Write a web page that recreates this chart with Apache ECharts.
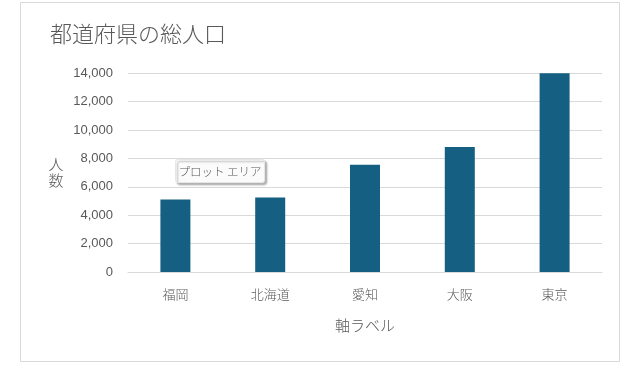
<!DOCTYPE html>
<html><head><meta charset="utf-8">
<script src="https://cdn.jsdelivr.net/npm/echarts@6/dist/echarts.min.js"></script>
<style>html,body{margin:0;padding:0;background:#fff}#c{width:637px;height:383px}</style>
</head><body><div id="c"></div>
<script>
const categories = ['福岡', '北海道', '愛知', '大阪', '東京'];
const population = [5100, 5250, 7550, 8800, 14000];
const yTicks = { min: 0, max: 14000, interval: 2000 };
const titleText = '都道府県の総人口';
const xAxisName = '軸ラベル';
const yAxisName = '人\n数';

const chart = echarts.init(document.getElementById('c'), null, { renderer: 'canvas' });
const jp = '"Noto Sans CJK JP", "Noto Sans", sans-serif';
chart.setOption({
  animation: false,
  backgroundColor: '#fff',
  title: {
    text: titleText, left: 45, top: 18,
    textStyle: { fontFamily: jp, fontSize: 22, fontWeight: 300, color: '#595959' }
  },
  grid: { left: 128, right: 35, top: 73.3, bottom: 111, containLabel: false },
  xAxis: {
    type: 'category', data: categories,
    name: xAxisName, nameLocation: 'middle', nameGap: 46,
    nameTextStyle: { fontFamily: jp, fontSize: 15, fontWeight: 300, color: '#595959' },
    axisLine: { lineStyle: { color: '#d9d9d9', width: 1 } },
    axisTick: { show: false },
    axisLabel: { margin: 16, fontFamily: jp, fontSize: 13, fontWeight: 300, color: '#595959' }
  },
  yAxis: {
    type: 'value', min: yTicks.min, max: yTicks.max, interval: yTicks.interval,
    name: yAxisName, nameLocation: 'middle', nameRotate: 0, nameGap: 72,
    nameTextStyle: { fontFamily: jp, fontSize: 15, fontWeight: 300, color: '#595959', align: 'center', lineHeight: 16 },
    axisLine: { show: false }, axisTick: { show: false },
    axisLabel: { margin: 15, fontFamily: '"Liberation Sans", Arial, sans-serif', fontSize: 13, color: '#595959',
      formatter: v => v.toLocaleString('en-US') },
    splitLine: { lineStyle: { color: '#d9d9d9', width: 1 } }
  },
  series: [{
    type: 'bar', data: population, barWidth: 30,
    itemStyle: { color: '#156082' }
  }],
  graphic: [
    { type: 'rect', silent: true, z: -1,
      shape: { x: 20.5, y: 2.5, width: 599, height: 359 },
      style: { fill: 'none', stroke: '#d9d9d9', lineWidth: 1 } },
    { type: 'group', left: 175, top: 159, z: 100, children: [
      { type: 'rect', shape: { x: 0, y: 0, width: 89, height: 23, r: 2 },
        style: { fill: '#fbfbfb', stroke: '#e6e6e6', lineWidth: 1,
          shadowBlur: 2, shadowOffsetX: 2, shadowOffsetY: 2, shadowColor: 'rgba(0,0,0,0.3)' } },
      { type: 'text', x: 44.5, y: 12,
        style: { text: 'プロット エリア', fontFamily: jp, fontSize: 11.5, fontWeight: 300, fill: '#595959',
          align: 'center', verticalAlign: 'middle' } }
    ]}
  ]
});
</script></body></html>
